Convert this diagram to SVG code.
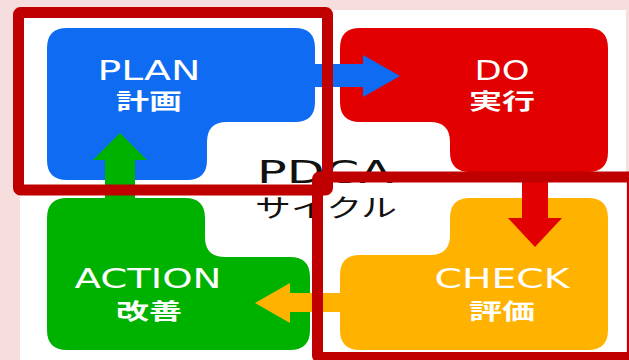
<svg xmlns="http://www.w3.org/2000/svg" width="629" height="360" viewBox="0 0 629 360">
<style>
.lat{font-family:"DejaVu Sans","Liberation Sans",sans-serif;font-size:26px;fill:#fff;text-anchor:middle}
.cjk{font-family:"Noto Sans CJK JP","Noto Sans CJK SC",sans-serif;font-size:22px;font-weight:bold;fill:#fff;text-anchor:middle}
.title{font-family:"DejaVu Sans","Noto Sans CJK JP",sans-serif;fill:#111}
.frame{fill:none;stroke:#c00000;stroke-width:11}
</style>
<rect width="629" height="360" fill="#f6dede"/>
<rect x="20" y="10" width="606" height="350" fill="#fff"/>
<g id="plan">
<path d="M67 28H295Q315 28 315 48V102Q315 122 295 122H227Q207 122 207 142V160Q207 180 187 180H67Q47 180 47 160V48Q47 28 67 28Z" fill="#0f6cf2"/>
<text class="lat" x="149" y="80" textLength="103" lengthAdjust="spacingAndGlyphs">PLAN</text>
<text class="cjk" x="149" y="109" textLength="66" lengthAdjust="spacingAndGlyphs">計画</text>
</g>
<g id="do">
<path d="M360 28H588Q608 28 608 48V152Q608 172 588 172H470Q450 172 450 152V142Q450 122 430 122H360Q340 122 340 102V48Q340 28 360 28Z" fill="#e20000"/>
<text class="lat" x="502" y="80" textLength="55" lengthAdjust="spacingAndGlyphs">DO</text>
<text class="cjk" x="502" y="109" textLength="66" lengthAdjust="spacingAndGlyphs">実行</text>
</g>
<g id="check">
<path d="M470 198H588Q608 198 608 218V330Q608 350 588 350H360Q340 350 340 330V275Q340 255 360 255H430Q450 255 450 235V218Q450 198 470 198Z" fill="#ffb300"/>
<text class="lat" x="502" y="288" textLength="135" lengthAdjust="spacingAndGlyphs">CHECK</text>
<text class="cjk" x="502" y="319" textLength="66" lengthAdjust="spacingAndGlyphs">評価</text>
</g>
<g id="action">
<path d="M67 198H185Q205 198 205 218V237Q205 257 225 257H290Q310 257 310 277V330Q310 350 290 350H67Q47 350 47 330V218Q47 198 67 198Z" fill="#00b200"/>
<text class="lat" x="148" y="288" textLength="147" lengthAdjust="spacingAndGlyphs">ACTION</text>
<text class="cjk" x="149" y="319" textLength="66" lengthAdjust="spacingAndGlyphs">改善</text>
</g>
<g id="connectors">
<polygon points="310,64 363,64 363,55 400,76 363,97 363,87 310,87" fill="#0f6cf2"/>
<polygon points="522,168 548,168 548,218 562,218 535,247 508,218 522,218" fill="#e20000"/>
<polygon points="345,293 290,293 290,283 255,303 290,323 290,312 345,312" fill="#ffb300"/>
<polygon points="105,200 105,160 93,160 120,133 147,160 135,160 135,200" fill="#00b200"/>
</g>
<g id="title">
<text class="title" x="257" y="183" font-size="32" textLength="136" lengthAdjust="spacingAndGlyphs">PDCA</text>
<text class="title" x="255" y="217" font-size="25" textLength="142" lengthAdjust="spacingAndGlyphs">サイクル</text>
</g>
<g id="frames">
<rect class="frame" x="317.5" y="177" width="315" height="180.5" rx="2"/>
<rect class="frame" x="18.5" y="12.5" width="309" height="177.5" rx="2"/>
</g>
</svg>
